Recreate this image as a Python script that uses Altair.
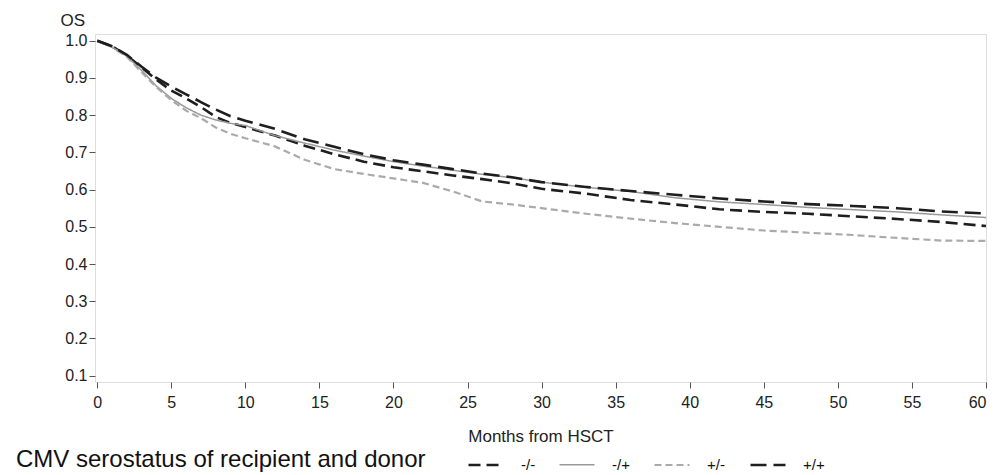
import altair as alt
import pandas as pd

months = [0, 1, 2, 3, 4, 5, 6, 7, 8, 9, 10, 12, 14, 16, 18, 20, 22, 24, 26, 28,
          30, 33, 36, 39, 42, 45, 48, 51, 54, 57, 60]

groups = ["-/-", "-/+", "+/-", "+/+"]

os_nn = [1.0, 0.985, 0.960, 0.928, 0.895, 0.866, 0.845, 0.822, 0.795, 0.779, 0.768,
         0.745, 0.718, 0.695, 0.675, 0.660, 0.649, 0.638, 0.628, 0.617,
         0.602, 0.589, 0.572, 0.560, 0.547, 0.540, 0.535, 0.528, 0.521, 0.513, 0.502]
os_np = [1.0, 0.983, 0.958, 0.920, 0.878, 0.845, 0.820, 0.800, 0.787, 0.778, 0.772,
         0.745, 0.725, 0.706, 0.690, 0.675, 0.663, 0.652, 0.641, 0.632,
         0.620, 0.606, 0.595, 0.578, 0.567, 0.560, 0.552, 0.546, 0.540, 0.532, 0.525]
os_pn = [1.0, 0.983, 0.957, 0.915, 0.875, 0.840, 0.812, 0.792, 0.767, 0.750, 0.738,
         0.716, 0.680, 0.655, 0.642, 0.630, 0.618, 0.595, 0.568, 0.560,
         0.550, 0.535, 0.522, 0.510, 0.500, 0.490, 0.484, 0.478, 0.470, 0.463, 0.462]
os_pp = [1.0, 0.985, 0.962, 0.930, 0.900, 0.877, 0.856, 0.835, 0.815, 0.797, 0.785,
         0.763, 0.735, 0.715, 0.695, 0.679, 0.667, 0.655, 0.643, 0.633,
         0.620, 0.607, 0.596, 0.586, 0.576, 0.568, 0.561, 0.556, 0.550, 0.541, 0.536]

y_ticks = [0.1, 0.2, 0.3, 0.4, 0.5, 0.6, 0.7, 0.8, 0.9, 1.0]
x_ticks = list(range(0, 61, 5))

rows = []
for g, vals in zip(groups, [os_nn, os_np, os_pn, os_pp]):
    for m, v in zip(months, vals):
        rows.append({"month": m, "os": v, "group": g})
df = pd.DataFrame(rows)

FONT = "Liberation Sans"

legend = alt.Legend(
    title="CMV serostatus of recipient and donor",
    orient="none", legendX=-79, legendY=412,
    direction="horizontal", columns=4,
    titleOrient="left", titleFontSize=24, titleFont=FONT,
    titleFontWeight="normal", titleColor="#111", titlePadding=41,
    titleBaseline="middle", titleAnchor="middle", titleLimit=800,
    labelFontSize=15, labelFont=FONT, labelColor="#111", labelOffset=16,
    symbolType="stroke", symbolSize=1225, columnPadding=20,
)

chart = alt.Chart(df).mark_line().encode(
    x=alt.X("month:Q",
            scale=alt.Scale(domain=[-0.15, 60], nice=False, zero=False),
            axis=alt.Axis(values=x_ticks, title="Months from HSCT", grid=False,
                          domain=False, tickSize=6, tickColor="#555",
                          labelFontSize=16, labelFont=FONT, labelColor="#222",
                          labelPadding=6, titleFontSize=17, titleFont=FONT,
                          titleFontWeight="normal", titleColor="#222",
                          titlePadding=18)),
    y=alt.Y("os:Q",
            scale=alt.Scale(domain=[0.083, 1.018], nice=False, zero=False),
            axis=alt.Axis(values=y_ticks, format=".1f", title="OS", grid=False,
                          domain=False, tickSize=6, tickColor="#555",
                          labelFontSize=16, labelFont=FONT, labelColor="#222",
                          labelPadding=2, titleFontSize=17, titleFont=FONT,
                          titleFontWeight="normal", titleColor="#222",
                          titleAngle=0, titleAlign="left", titleBaseline="middle",
                          titleX=-35, titleY=-14)),
    color=alt.Color("group:N",
                    scale=alt.Scale(domain=groups,
                                    range=["#1e1e1e", "#999999", "#aaaaaa", "#1e1e1e"]),
                    legend=legend),
    strokeDash=alt.StrokeDash("group:N",
                              scale=alt.Scale(domain=groups,
                                              range=[[12, 6], [1, 0], [7, 4], [16, 7]]),
                              legend=legend),
    strokeWidth=alt.StrokeWidth("group:N",
                                scale=alt.Scale(type="ordinal", domain=groups,
                                                range=[2.6, 1.5, 2.2, 2.6]),
                                legend=legend),
).properties(
    width=891, height=348,
    autosize=alt.AutoSizeParams(type="none"),
    padding={"left": 87, "top": 26, "right": 9, "bottom": 92},
).configure_view(
    stroke="#8a8a8a", strokeWidth=1
).configure(background="white")

chart.save("out.html", embed_options={"renderer": "svg", "actions": False})
